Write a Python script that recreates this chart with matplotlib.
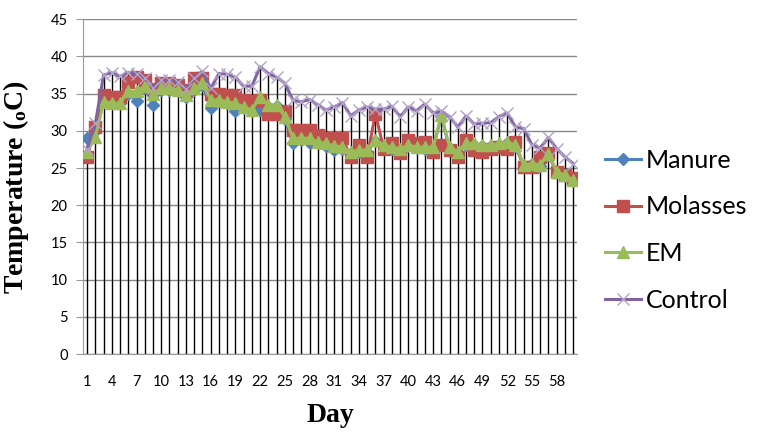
import numpy as np
import matplotlib.pyplot as plt

days = list(range(1, 61))

manure = [29.0, 30.0, 34.1, 34.0, 33.8, 35.0, 34.0, 35.8, 33.5, 35.5,
          35.5, 35.3, 34.6, 35.5, 36.2, 33.0, 34.0, 33.7, 32.6, 33.0,
          32.6, 32.8, 33.2, 33.3, 31.6, 28.3, 28.8, 28.3, 28.3, 28.0,
          27.4, 27.6, 27.0, 27.2, 27.2, 28.6, 27.9, 27.6, 27.4, 27.9,
          27.7, 27.6, 27.6, 32.0, 27.6, 27.0, 28.1, 28.1, 27.9, 27.9,
          28.1, 28.3, 27.9, 25.3, 25.5, 25.3, 26.8, 24.4, 23.9, 23.3]
molasses = [26.5, 30.5, 34.8, 34.6, 34.6, 36.6, 37.2, 36.8, 35.6, 36.4,
            36.4, 36.2, 35.5, 37.1, 37.1, 35.0, 35.0, 34.8, 34.8, 34.1,
            34.0, 34.1, 32.3, 32.3, 32.6, 30.1, 30.1, 30.1, 29.4, 29.0,
            29.0, 29.0, 26.5, 28.1, 26.5, 32.3, 27.6, 28.3, 27.0, 28.7,
            28.3, 28.5, 27.2, 28.1, 27.4, 26.5, 28.7, 27.4, 27.2, 27.6,
            27.8, 27.6, 28.5, 25.1, 25.1, 26.5, 27.0, 24.5, 24.0, 23.6]
em = [27.2, 29.2, 33.9, 33.7, 33.7, 35.3, 35.3, 36.0, 35.0, 35.7,
      35.7, 35.5, 34.8, 35.7, 36.4, 34.1, 34.2, 33.9, 33.7, 33.2,
      32.8, 34.6, 33.5, 33.5, 31.9, 29.0, 29.0, 29.0, 28.5, 28.3,
      28.0, 27.8, 27.2, 27.4, 27.4, 28.8, 28.1, 27.8, 27.6, 28.1,
      27.8, 27.8, 27.8, 32.1, 27.8, 27.2, 28.3, 28.3, 28.1, 28.1,
      28.3, 28.5, 28.1, 25.4, 25.6, 25.4, 26.9, 24.5, 24.0, 23.4]
control = [27.6, 31.0, 37.5, 37.8, 37.3, 37.8, 37.7, 37.1, 35.8, 36.8,
           36.8, 36.6, 35.6, 37.1, 38.0, 35.7, 37.7, 37.6, 37.2, 36.0,
           36.0, 38.6, 37.7, 37.2, 36.4, 34.1, 33.9, 34.2, 33.5, 32.8,
           33.2, 33.8, 32.0, 32.8, 33.2, 32.9, 32.9, 33.3, 31.9, 33.2,
           32.7, 33.6, 32.4, 32.6, 31.9, 30.5, 32.0, 30.9, 31.0, 31.1,
           31.9, 32.4, 30.5, 30.3, 28.1, 27.7, 29.1, 27.6, 26.5, 25.6]

xticks = list(range(1, 61, 3))

plt.rcParams['mathtext.fontset'] = 'custom'
plt.rcParams['mathtext.rm'] = 'Liberation Serif:bold'
plt.rcParams['mathtext.bf'] = 'Liberation Serif:bold'
plt.rcParams['mathtext.it'] = 'Liberation Serif:bold'

fig = plt.figure(figsize=(7.58, 4.36), dpi=100)
ax = fig.add_axes([0.1095, 0.188, 0.652, 0.768])

# drop lines from the highest point down to zero
top = np.max(np.array([manure, molasses, em, control]), axis=0)
ax.vlines(days, 0, top, colors='black', linewidth=1.0, zorder=1)

ax.plot(days, manure, color='#4F81BD', marker='D', markersize=6,
        linewidth=2.2, label='Manure', zorder=3)
ax.plot(days, molasses, color='#C0504D', marker='s', markersize=8,
        linewidth=2.2, label='Molasses', zorder=4)
ax.plot(days, em, color='#9BBB59', marker='^', markersize=8,
        linewidth=2.2, label='EM', zorder=5)
ax.plot(days, control, color='#8064A2', marker='x', markersize=8,
        markeredgecolor='#B3A2C7', markeredgewidth=1.0,
        linewidth=2.2, label='Control', zorder=6)

ax.set_xlim(0.5, 60.5)
ax.set_ylim(0, 45)
ax.set_yticks(range(0, 46, 5))
ax.set_xticks(xticks)
ax.grid(axis='y', color='#888888', linewidth=1.0, zorder=0)
ax.set_axisbelow(True)
for s in ['top', 'right']:
    ax.spines[s].set_visible(False)
ax.spines['left'].set_color('#999999')
ax.spines['bottom'].set_color('#999999')
ax.tick_params(axis='y', length=5, color='#999999', labelsize=10.5, pad=6)
ax.tick_params(axis='x', length=0, labelsize=10.5, pad=15)
for lab in ax.get_xticklabels() + ax.get_yticklabels():
    lab.set_fontfamily('Lato')

ax.set_xlabel('Day', fontfamily='Liberation Serif', fontweight='bold',
              fontsize=20, labelpad=10)
ax.set_ylabel(r'Temperature ($_{o}$C)', fontfamily='Liberation Serif',
              fontweight='bold', fontsize=20, labelpad=14)

leg = ax.legend(loc='center left', bbox_to_anchor=(0.798, 0.472),
                bbox_transform=fig.transFigure, frameon=False,
                prop={'family': 'Lato', 'size': 18},
                borderpad=0, borderaxespad=0,
                labelspacing=0.95, handlelength=1.45, handletextpad=0.2)

fig.savefig('out.png', dpi=100)
